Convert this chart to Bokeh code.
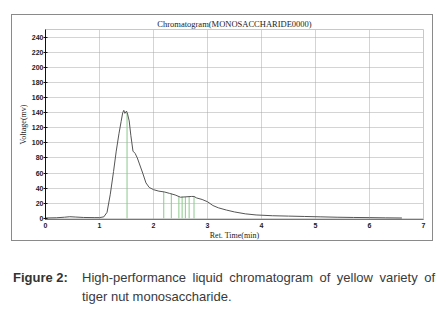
from bokeh.plotting import figure
from bokeh.layouts import column
from bokeh.models import FixedTicker, Div
from bokeh.embed import file_html
from bokeh.resources import INLINE

# chromatogram trace
ret_time = [0.0, 0.2, 0.35, 0.45, 0.55, 0.7, 0.9, 1.0, 1.08, 1.14, 1.2, 1.26, 1.31, 1.36, 1.40,
            1.43, 1.45, 1.47, 1.50, 1.52, 1.55, 1.58, 1.62, 1.66, 1.70, 1.74, 1.80, 1.86, 1.92,
            2.0, 2.1, 2.2, 2.3, 2.4, 2.5, 2.6, 2.7, 2.75, 2.8, 2.9, 3.0, 3.1, 3.2, 3.35, 3.5,
            3.7, 3.9, 4.2, 4.5, 4.8, 5.1, 5.4, 5.7, 6.0, 6.3, 6.6]
voltage = [0.5, 0.8, 1.5, 2.2, 1.8, 1.2, 1.0, 1.0, 2, 8, 32, 62, 89, 112, 128,
           140, 143, 139, 142, 138, 129, 110, 89, 86, 80, 72, 60, 47, 41,
           38, 36, 35, 33, 31, 28, 28.5, 29, 29, 27, 25, 22, 17, 14, 11, 8.5,
           6, 4.5, 3.5, 3, 2.5, 2, 1.5, 1.2, 1.0, 0.7, 0.5]

# integrated peak markers
peak_time = [1.51, 2.19, 2.33, 2.47, 2.53, 2.59, 2.66, 2.75]
peak_height = [140, 35, 33, 29, 29, 28.5, 29, 29]

x_ticks = [0, 1, 2, 3, 4, 5, 6, 7]
y_ticks = [0, 20, 40, 60, 80, 100, 120, 140, 160, 180, 200, 220, 240]

title_text = "Chromatogram(MONOSACCHARIDE0000)"
x_label = "Ret. Time(min)"
y_label = "Voltage(mv)"
caption_head = "Figure 2:"
caption_line1 = "High-performance liquid chromatogram of yellow variety of"
caption_line2 = "tiger nut monosaccharide."

p = figure(width=422, height=227, output_backend="svg", toolbar_location=None,
           x_range=(0, 7), y_range=(-1.5, 250), title=title_text,
           min_border_left=33, min_border_right=11, min_border_top=14, min_border_bottom=22,
           margin=(14, 0, 0, 11),
           styles={"border": "1px solid #8a8a8a"})
p.background_fill_color = "white"
p.border_fill_color = "white"
p.outline_line_color = "#c8c8c8"

p.title.align = "center"
p.title.text_font = "Liberation Serif"
p.title.text_font_style = "normal"
p.title.text_font_size = "8.5px"
p.title.text_color = "#222222"
p.title.standoff = 2

# grid
p.xgrid.ticker = FixedTicker(ticks=x_ticks)
p.ygrid.ticker = FixedTicker(ticks=y_ticks)
for g in (p.xgrid, p.ygrid):
    g.grid_line_color = "#a8a8a8"
    g.grid_line_dash = "1 1"
    g.grid_line_width = 1

# axes
p.xaxis.ticker = FixedTicker(ticks=x_ticks)
p.yaxis.ticker = FixedTicker(ticks=y_ticks)
p.xaxis.axis_label = x_label
p.yaxis.axis_label = y_label
for ax in (p.xaxis, p.yaxis):
    ax.axis_label_text_font = "Liberation Serif"
    ax.axis_label_text_font_style = "normal"
    ax.axis_label_text_font_size = "8px"
    ax.axis_label_text_color = "#222222"
    ax.major_label_text_font = "Liberation Sans"
    ax.major_label_text_font_style = "bold"
    ax.major_label_text_font_size = "7px"
    ax.major_label_text_color = "#222222"
    ax.minor_tick_line_color = None
    ax.minor_tick_out = 0
    ax.minor_tick_in = 0
p.yaxis.axis_line_color = "#111111"
p.yaxis.major_tick_in = 2
p.yaxis.major_tick_out = 2
p.yaxis.major_tick_line_color = "#111111"
p.yaxis.major_label_standoff = 0
p.yaxis.axis_label_standoff = 1
p.xaxis.axis_line_color = "#777777"
p.xaxis.major_tick_line_color = None
p.xaxis.major_tick_in = 0
p.xaxis.major_tick_out = 0
p.xaxis.major_label_standoff = 3
p.xaxis.axis_label_standoff = 0

# data
p.segment(x0=peak_time, y0=[0] * len(peak_time), x1=peak_time, y1=peak_height,
          line_color="#8cc98c", line_width=1)
p.line(ret_time, voltage, line_color="#555555", line_width=1)

# caption
font = "'Liberation Sans', Arial, sans-serif"
html = (
    f'<div style="position:relative;width:447px;height:68px;font-family:{font};color:#3a3a3a;">'
    f'<div style="position:absolute;left:13px;top:29px;font-size:13px;line-height:15px;'
    f'font-weight:bold;color:#333333;">{caption_head}</div>'
    f'<div style="position:absolute;left:82px;top:29px;width:353px;font-size:13px;line-height:15px;'
    f'text-align:justify;text-align-last:justify;">{caption_line1}</div>'
    f'<div style="position:absolute;left:82px;top:48px;font-size:13px;line-height:15px;'
    f'white-space:nowrap;">{caption_line2}</div>'
    '</div>'
)
cap = Div(text=html, width=447, height=68, margin=(0, 0, 0, 0))

layout = column(p, cap, spacing=0)
open("out.html", "w").write(file_html(layout, INLINE))
